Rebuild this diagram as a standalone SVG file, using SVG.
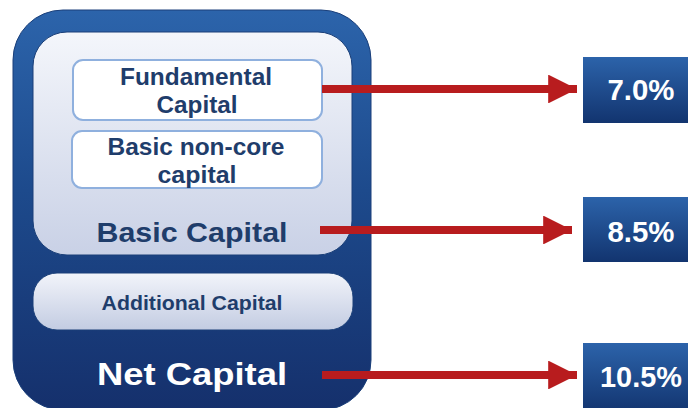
<svg xmlns="http://www.w3.org/2000/svg" width="688" height="408" viewBox="0 0 688 408">
<defs>
<linearGradient id="gOuter" x1="0" y1="0" x2="0" y2="1">
<stop offset="0" stop-color="#2c64ab"/><stop offset="0.45" stop-color="#1d4a8c"/><stop offset="1" stop-color="#15306c"/>
</linearGradient>
<linearGradient id="gInner" x1="0" y1="0" x2="0" y2="1">
<stop offset="0" stop-color="#f4f6fb"/><stop offset="1" stop-color="#c9d1e6"/>
</linearGradient>
<linearGradient id="gAdd" x1="0" y1="0" x2="0" y2="1">
<stop offset="0" stop-color="#f2f4fa"/><stop offset="1" stop-color="#c3cce2"/>
</linearGradient>
<linearGradient id="gBox" x1="0" y1="0" x2="0" y2="1">
<stop offset="0" stop-color="#2c63aa"/><stop offset="1" stop-color="#12346f"/>
</linearGradient>
<marker id="ah" viewBox="0 0 10 10" refX="10" refY="5" markerWidth="3.6" markerHeight="3.6" orient="auto" markerUnits="strokeWidth">
<path d="M0,0 L10,5 L0,10 Z" fill="#b81c1e"/>
</marker>
</defs>
<style>
.t{font-family:"Liberation Sans",Arial,sans-serif;font-weight:bold;text-anchor:middle}
.dk{fill:#1f3d6b}
.wh{fill:#ffffff}
.arr{stroke:#b81c1e;stroke-width:8;fill:none;marker-end:url(#ah)}
</style>
<rect width="688" height="408" fill="#ffffff"/>
<g id="net-capital">
<rect x="13" y="10" width="358" height="400" rx="50" fill="url(#gOuter)" stroke="#1a3f7a" stroke-width="1"/>
<text class="t wh" x="192" y="385" font-size="31" textLength="190" lengthAdjust="spacingAndGlyphs">Net Capital</text>
</g>
<g id="basic-capital">
<rect x="33" y="32" width="319" height="223" rx="34" fill="url(#gInner)" stroke="#1a3f78" stroke-width="1"/>
<text class="t dk" x="192" y="242" font-size="28" textLength="191" lengthAdjust="spacingAndGlyphs">Basic Capital</text>
</g>
<g id="fundamental-capital">
<rect x="73" y="60" width="249" height="60" rx="10" fill="#ffffff" stroke="#8fb0de" stroke-width="2"/>
<text class="t dk" x="196" y="85" font-size="24" textLength="152" lengthAdjust="spacingAndGlyphs">Fundamental</text>
<text class="t dk" x="197" y="113" font-size="24" textLength="81" lengthAdjust="spacingAndGlyphs">Capital</text>
</g>
<g id="basic-non-core">
<rect x="72" y="131" width="250" height="57" rx="10" fill="#ffffff" stroke="#8fb0de" stroke-width="2"/>
<text class="t dk" x="196" y="155" font-size="24" textLength="177" lengthAdjust="spacingAndGlyphs">Basic non-core</text>
<text class="t dk" x="197" y="183" font-size="24" textLength="79" lengthAdjust="spacingAndGlyphs">capital</text>
</g>
<g id="additional-capital">
<rect x="33" y="273" width="320" height="57" rx="24" fill="url(#gAdd)" stroke="#1a3f78" stroke-width="1"/>
<text class="t dk" x="192" y="310" font-size="21" textLength="181" lengthAdjust="spacingAndGlyphs">Additional Capital</text>
</g>
<g id="r7">
<rect x="583" y="57" width="110" height="66" fill="url(#gBox)"/>
<text class="t wh" x="641" y="100" font-size="29" textLength="67" lengthAdjust="spacingAndGlyphs">7.0%</text>
</g>
<g id="r85">
<rect x="583" y="197" width="110" height="65" fill="url(#gBox)"/>
<text class="t wh" x="641" y="242" font-size="29" textLength="67" lengthAdjust="spacingAndGlyphs">8.5%</text>
</g>
<g id="r105">
<rect x="583" y="343" width="110" height="70" fill="url(#gBox)"/>
<text class="t wh" x="641" y="387" font-size="29" textLength="82" lengthAdjust="spacingAndGlyphs">10.5%</text>
</g>
<g id="connectors">
<line class="arr" x1="322" y1="89" x2="577" y2="89"/>
<line class="arr" x1="320" y1="230" x2="572" y2="230"/>
<line class="arr" x1="322" y1="375" x2="577" y2="375"/>
</g>
</svg>
